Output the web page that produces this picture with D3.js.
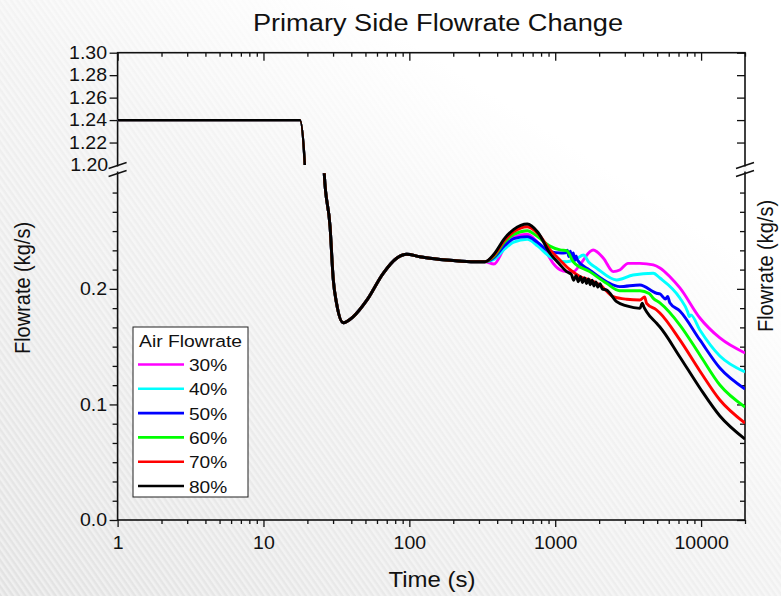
<!DOCTYPE html>
<html lang="en">
<head>
<meta charset="utf-8">
<title>Primary Side Flowrate Change</title>
<script src="https://cdn.jsdelivr.net/npm/d3@7"></script>
<style>
  body { margin: 0; }
  text { font-family: "Liberation Sans", Arial, sans-serif; fill: #111; }
</style>
</head>
<body>
<script>
// ---- data ----
var seriesNames = ["30%", "40%", "50%", "60%", "70%", "80%"];
var seriesColors = ["#ff00ff", "#00ffff", "#0000ff", "#00ff00", "#ff0000", "#000000"];

// shared part (all curves overlap up to ~330 s)
var timeCommon = [1, 17.8, 19.3, 26.1, 28.6, 30.1, 31.7, 35.2, 41.3, 51, 66.2, 81.8, 95.8, 118, 138, 200, 280, 330];
var flowCommon = [1.24, 1.24, 1.195, 0.300, 0.254, 0.208, 0.1875, 0.1707, 0.176, 0.190, 0.2135, 0.2265, 0.230, 0.2278, 0.2265, 0.2245, 0.2235, 0.2235];

var time30 = [380, 450, 520, 643, 760, 874, 968, 1078, 1200, 1330, 1500, 1730, 1820, 2140, 2500, 2770, 3160, 3806, 4705, 5220, 6113, 7155, 9811, 13456, 20000];
var flow30 = [0.2215, 0.236, 0.2445, 0.2472, 0.240, 0.2308, 0.2221, 0.2165, 0.2149, 0.2149, 0.222, 0.2322, 0.2336, 0.2265, 0.2149, 0.2163, 0.2221, 0.2221, 0.2207, 0.2181, 0.2105, 0.2008, 0.1748, 0.1575, 0.1445];

var time40 = [380, 450, 520, 643, 760, 920, 1197, 1400, 1563, 1700, 1925, 2636, 3420, 4705, 5220, 7155, 8100, 8300, 8500, 9811, 13456, 20000];
var flow40 = [0.2255, 0.2345, 0.2405, 0.2429, 0.237, 0.2278, 0.2235, 0.226, 0.2293, 0.223, 0.2178, 0.2077, 0.212, 0.2135, 0.2094, 0.1921, 0.180, 0.176, 0.1775, 0.1644, 0.1419, 0.1281];

var time50 = [380, 450, 520, 643, 760, 920, 1100, 1180, 1210, 1240, 1270, 1300, 1330, 1360, 1390, 1420, 1724, 2251, 2767, 3806, 4955, 5220, 5700, 5900, 6100, 7155, 9811, 13456, 20000];
var flow50 = [0.227, 0.2375, 0.2435, 0.2452, 0.240, 0.2322, 0.231, 0.2312, 0.2335, 0.228, 0.2325, 0.226, 0.231, 0.2245, 0.2285, 0.225, 0.2163, 0.2062, 0.2019, 0.2034, 0.1962, 0.1956, 0.1912, 0.1935, 0.188, 0.1809, 0.1558, 0.1315, 0.1134];

var time60 = [380, 450, 520, 643, 760, 920, 1080, 1200, 1329, 1724, 2251, 2767, 3806, 4400, 4705, 5220, 7155, 9811, 13456, 20000];
var flow60 = [0.228, 0.2405, 0.247, 0.2503, 0.245, 0.237, 0.2337, 0.233, 0.2235, 0.2149, 0.2048, 0.1984, 0.1984, 0.196, 0.1918, 0.1878, 0.1687, 0.1428, 0.1168, 0.0978];

var time70 = [380, 450, 520, 643, 760, 920, 1077, 1250, 1486, 1700, 2030, 2498, 3087, 3806, 4100, 4232, 4956, 5220, 7155, 9811, 13456, 20000];
var flow70 = [0.229, 0.242, 0.2495, 0.2538, 0.248, 0.234, 0.225, 0.217, 0.2105, 0.208, 0.2034, 0.1932, 0.191, 0.1904, 0.193, 0.1875, 0.1817, 0.1791, 0.1558, 0.1289, 0.1038, 0.0839];

var time80 = [380, 450, 520, 643, 760, 920, 1060, 1197, 1290, 1340, 1390, 1440, 1490, 1540, 1590, 1640, 1690, 1740, 1790, 1840, 1900, 1960, 2030, 2100, 2251, 2636, 3086, 3807, 3950, 4050, 4231, 4955, 5220, 7155, 9811, 13456, 20000];
var flow80 = [0.230, 0.2437, 0.2515, 0.2561, 0.249, 0.2308, 0.222, 0.215, 0.2125, 0.2075, 0.2115, 0.2062, 0.2105, 0.2055, 0.2095, 0.2045, 0.2085, 0.2035, 0.2075, 0.2025, 0.2060, 0.2015, 0.2045, 0.2000, 0.1990, 0.1889, 0.1852, 0.1831, 0.1875, 0.1845, 0.1802, 0.1702, 0.1670, 0.1411, 0.1142, 0.0900, 0.0701];

var seriesTimes = [time30, time40, time50, time60, time70, time80];
var seriesFlows = [flow30, flow40, flow50, flow60, flow70, flow80];

var xTickValues = [1, 10, 100, 1000, 10000];
var yTopTicks = [1.20, 1.22, 1.24, 1.26, 1.28, 1.30];
var yBotTicks = [0.0, 0.1, 0.2];

// ---- layout ----
var w = 781, h = 596;
var plotLeft = 117.6, plotRight = 745, plotTop = 52.7, plotBottom = 520;
var upperBottom = 165, lowerTop = 173.3;
var stretch = 1.11;   // the original figure is slightly wider than tall in its text

var svg = d3.select("body").append("svg")
  .attr("width", w).attr("height", h);

// background: light grey fading to white, faint diagonal stripes
var defs = svg.append("defs");
var grad = defs.append("linearGradient").attr("id", "bg")
  .attr("x1", "0%").attr("y1", "100%").attr("x2", "85%").attr("y2", "0%");
grad.append("stop").attr("offset", "0%").attr("stop-color", "#e2e2e2");
grad.append("stop").attr("offset", "55%").attr("stop-color", "#f2f2f2");
grad.append("stop").attr("offset", "80%").attr("stop-color", "#ffffff");
var pat = defs.append("pattern").attr("id", "stripes")
  .attr("width", 5).attr("height", 5)
  .attr("patternUnits", "userSpaceOnUse")
  .attr("patternTransform", "rotate(-35)");
pat.append("rect").attr("width", 2.5).attr("height", 5).attr("fill", "#ffffff").attr("opacity", 0.45);

svg.append("rect").attr("width", w).attr("height", h).attr("fill", "url(#bg)");
svg.append("rect").attr("width", w).attr("height", h).attr("fill", "url(#stripes)");

defs.append("clipPath").attr("id", "clipTop").append("rect")
  .attr("x", plotLeft).attr("y", plotTop).attr("width", plotRight - plotLeft).attr("height", upperBottom - plotTop);
defs.append("clipPath").attr("id", "clipBot").append("rect")
  .attr("x", plotLeft).attr("y", lowerTop).attr("width", plotRight - plotLeft).attr("height", plotBottom - lowerTop);

// scales
var x = d3.scaleLog().domain([1, 20000]).range([plotLeft, plotRight]);
var yTop = d3.scaleLinear().domain([1.2, 1.3]).range([upperBottom, plotTop]);
var yBot = d3.scaleLinear().domain([0, 0.3]).range([plotBottom, lowerTop]);

// minor ticks for log axis
var xMinor = [];
for (var dec = 1; dec <= 10000; dec *= 10) {
  for (var k = 2; k <= 9; k++) {
    if (dec * k <= 20000) xMinor.push(dec * k);
  }
}
var yBotMinor = d3.range(0, 19).map(function(i) { return i / 60; })
  .filter(function(v) { return Math.abs(v * 10 - Math.round(v * 10)) > 1e-6; });

function styleAxis(g) {
  g.selectAll("path").remove();
  g.selectAll("line").attr("stroke", "#111").attr("stroke-width", 1.3);
  g.selectAll("text").style("font-size", "17.6px").attr("fill", "#111")
    .attr("transform", "scale(" + stretch + ",1)");
}

// bottom axis
svg.append("g").attr("transform", "translate(0," + plotBottom + ")")
  .call(d3.axisBottom(x).tickValues(xMinor).tickSize(4).tickFormat(""))
  .call(styleAxis);
svg.append("g").attr("transform", "translate(0," + plotBottom + ")")
  .call(d3.axisBottom(x).tickValues(xTickValues).tickSize(7).tickPadding(10).tickFormat(d3.format("d")))
  .call(styleAxis);

// top mirror axis (ticks inward)
svg.append("g").attr("transform", "translate(0," + plotTop + ")")
  .call(d3.axisBottom(x).tickValues(xMinor).tickSize(4).tickFormat(""))
  .call(styleAxis);
svg.append("g").attr("transform", "translate(0," + plotTop + ")")
  .call(d3.axisBottom(x).tickValues(xTickValues).tickSize(8).tickFormat(""))
  .call(styleAxis);

// left axis, two panels
svg.append("g").attr("transform", "translate(" + plotLeft + ",0)")
  .call(d3.axisLeft(yTop).tickValues(yTopTicks.slice(1)).tickSize(8).tickPadding(1.5).tickFormat(d3.format(".2f")))
  .call(styleAxis);
svg.append("g").attr("transform", "translate(" + plotLeft + ",0)")
  .call(d3.axisLeft(yTop).tickValues([1.20]).tickSize(0).tickPadding(8.5).tickFormat(d3.format(".2f")))
  .call(styleAxis);
svg.append("g").attr("transform", "translate(" + plotLeft + ",0)")
  .call(d3.axisLeft(yBot).tickValues(yBotMinor).tickSize(5).tickFormat(""))
  .call(styleAxis);
svg.append("g").attr("transform", "translate(" + plotLeft + ",0)")
  .call(d3.axisLeft(yBot).tickValues(yBotTicks).tickSize(8).tickPadding(1.5).tickFormat(d3.format(".1f")))
  .call(styleAxis);

// right mirror axis (ticks inward)
svg.append("g").attr("transform", "translate(" + plotRight + ",0)")
  .call(d3.axisLeft(yTop).tickValues(yTopTicks.slice(1)).tickSize(8).tickFormat(""))
  .call(styleAxis);
svg.append("g").attr("transform", "translate(" + plotRight + ",0)")
  .call(d3.axisLeft(yBot).tickValues(yBotMinor).tickSize(5).tickFormat(""))
  .call(styleAxis);
svg.append("g").attr("transform", "translate(" + plotRight + ",0)")
  .call(d3.axisLeft(yBot).tickValues(yBotTicks).tickSize(8).tickFormat(""))
  .call(styleAxis);

// frame
svg.append("rect").attr("x", plotLeft).attr("y", plotTop)
  .attr("width", plotRight - plotLeft).attr("height", plotBottom - plotTop)
  .attr("fill", "none").attr("stroke", "#111").attr("stroke-width", 1.6);

// curves
var line = function(ys) {
  return d3.line()
    .x(function(d) { return x(d[0]); })
    .y(function(d) { return ys(d[1]); })
    .curve(d3.curveMonotoneX);
};

seriesNames.forEach(function(name, i) {
  var pts = timeCommon.map(function(t, j) { return [t, flowCommon[j]]; })
    .concat(seriesTimes[i].map(function(t, j) { return [t, seriesFlows[i][j]]; }));
  svg.append("path").datum(pts)
    .attr("clip-path", "url(#clipTop)")
    .attr("fill", "none").attr("stroke", seriesColors[i]).attr("stroke-width", 2.4)
    .attr("d", line(yTop));
  svg.append("path").datum(pts)
    .attr("clip-path", "url(#clipBot)")
    .attr("fill", "none").attr("stroke", seriesColors[i]).attr("stroke-width", 2.9)
    .attr("stroke-linejoin", "round")
    .attr("d", line(yBot));
});

// axis break marks
[plotLeft, plotRight].forEach(function(bx) {
  svg.append("rect").attr("x", bx - 2).attr("y", 166.5).attr("width", 4).attr("height", 5)
    .attr("fill", "#f6f6f6");
  [165.5, 173.5].forEach(function(by) {
    svg.append("line")
      .attr("x1", bx - 9).attr("y1", by + 3)
      .attr("x2", bx + 9).attr("y2", by - 3)
      .attr("stroke", "#111").attr("stroke-width", 1.4);
  });
});

// horizontally stretched text helper
function label(g, tx, ty, size, str, anchor) {
  return g.append("text")
    .attr("transform", "translate(" + tx + "," + ty + ") scale(" + stretch + ",1)")
    .attr("text-anchor", anchor || "start")
    .style("font-size", size + "px").text(str);
}

// legend
var lg = svg.append("g").attr("transform", "translate(133,327)");
lg.append("rect").attr("width", 115).attr("height", 170)
  .attr("fill", "#ffffff").attr("stroke", "#222").attr("stroke-width", 1);
label(lg, 6, 20, 17.4, "Air Flowrate");
seriesNames.forEach(function(name, i) {
  var yy = 37.5 + i * 24.3;
  lg.append("line").attr("x1", 5).attr("x2", 51).attr("y1", yy).attr("y2", yy)
    .attr("stroke", seriesColors[i]).attr("stroke-width", 2.6);
  label(lg, 56, yy + 6.5, 17.2, name);
});

// titles
label(svg, 438, 31, 24.5, "Primary Side Flowrate Change", "middle");
label(svg, 432, 587, 21.6, "Time (s)", "middle");
svg.append("text").attr("transform", "translate(30,288) rotate(-90) scale(1," + stretch + ")").attr("text-anchor", "middle")
  .style("font-size", "20px").text("Flowrate (kg/s)");
svg.append("text").attr("transform", "translate(773,266) rotate(-90) scale(1," + stretch + ")").attr("text-anchor", "middle")
  .style("font-size", "20px").text("Flowrate (kg/s)");
</script>
</body>
</html>
